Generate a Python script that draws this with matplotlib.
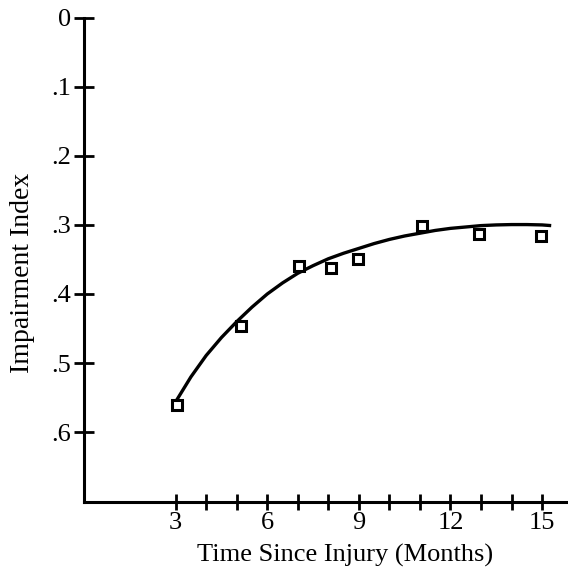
import matplotlib
matplotlib.use("Agg")
import matplotlib.pyplot as plt

plt.rcParams['font.family'] = ['Liberation Serif', 'DejaVu Serif']

# observed points (months, impairment index)
months = [3.05, 5.15, 7.05, 8.08, 8.98, 11.06, 12.94, 14.96]
impairment = [0.561, 0.447, 0.359, 0.363, 0.349, 0.302, 0.313, 0.316]

# fitted curve
fit_months = [3.0, 3.5, 4.0, 4.5, 5.0, 5.5, 6.0, 6.5, 7.0, 7.5, 8.0, 8.5, 9.0, 9.5,
              10.0, 10.5, 11.0, 11.5, 12.0, 12.5, 13.0, 13.5, 14.0, 14.5, 15.0, 15.3]
fit_impairment = [0.556, 0.520, 0.489, 0.463, 0.440, 0.419, 0.400, 0.384, 0.370, 0.359,
                  0.349, 0.341, 0.334, 0.327, 0.321, 0.316, 0.312, 0.308, 0.305, 0.303,
                  0.301, 0.300, 0.2995, 0.2995, 0.300, 0.301]

x_major = [3, 6, 9, 12, 15]
x_minor = [4, 5, 7, 8, 10, 11, 13, 14]
y_ticks = [0, 0.1, 0.2, 0.3, 0.4, 0.5, 0.6]
y_labels = ['0', '.1', '.2', '.3', '.4', '.5', '.6']

fig = plt.figure(figsize=(5.68, 5.71), dpi=100)
ax = fig.add_axes([0.148, 0.121, 0.852, 0.848])

ax.plot(fit_months, fit_impairment, color='black', lw=2.4, solid_capstyle='butt', zorder=2)
ax.plot(months, impairment, ls='none', marker='s', ms=7.5, mfc='white', mec='black',
        mew=2.2, zorder=3)

ax.set_xlim(0, 15.85)
ax.set_ylim(0.701, 0)

for side in ['top', 'right']:
    ax.spines[side].set_visible(False)
for side in ['left', 'bottom']:
    ax.spines[side].set_linewidth(2.2)

ax.set_xticks(x_major)
ax.set_xticklabels([str(v) for v in x_major])
ax.set_xticks(x_minor, minor=True)
ax.set_yticks(y_ticks)
ax.set_yticklabels(y_labels)

ax.tick_params(axis='x', which='both', direction='inout', length=11, width=2, labelsize=19, pad=2)
ax.tick_params(axis='y', direction='inout', length=15, width=2, labelsize=19, pad=2)

ax.set_xlabel('Time Since Injury (Months)', fontsize=19)
ax.set_ylabel('Impairment Index', fontsize=20)
ax.xaxis.set_label_coords(0.539, -0.087)
ax.yaxis.set_label_coords(-0.101, 0.474)

fig.savefig('out.png', dpi=100)
